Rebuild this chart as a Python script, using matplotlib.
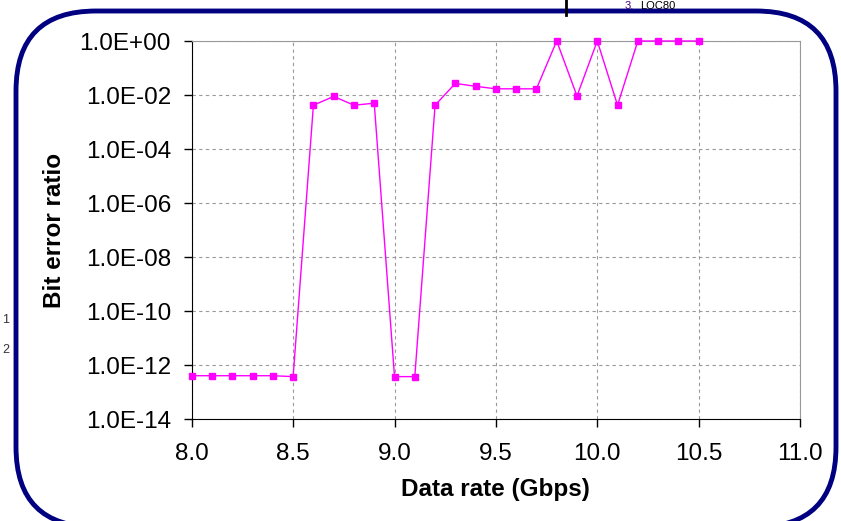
import matplotlib
matplotlib.use("Agg")
import matplotlib.pyplot as plt
from matplotlib.patches import FancyBboxPatch
from matplotlib.transforms import IdentityTransform
from matplotlib.ticker import FixedLocator, NullLocator

# Data
data_rate = [8.0, 8.1, 8.2, 8.3, 8.4, 8.5, 8.6, 8.7, 8.8, 8.9,
             9.0, 9.1, 9.2, 9.3, 9.4, 9.5, 9.6, 9.7, 9.8, 9.9,
             10.0, 10.1, 10.2, 10.3, 10.4, 10.5]
ber = [4.1e-13, 4.1e-13, 4.1e-13, 4.1e-13, 4.1e-13, 3.8e-13, 4.2e-3, 8.9e-3, 4.2e-3, 5.0e-3,
       3.8e-13, 3.8e-13, 4.2e-3, 2.7e-2, 2.1e-2, 1.7e-2, 1.7e-2, 1.7e-2, 1.0, 9.2e-3,
       1.0, 4.2e-3, 1.0, 1.0, 1.0, 1.0]

x_ticks = [8.0, 8.5, 9.0, 9.5, 10.0, 10.5, 11.0]
x_tick_labels = ["8.0", "8.5", "9.0", "9.5", "10.0", "10.5", "11.0"]
y_ticks = [1e-14, 1e-12, 1e-10, 1e-8, 1e-6, 1e-4, 1e-2, 1e0]
y_tick_labels = ["1.0E-14", "1.0E-12", "1.0E-10", "1.0E-08",
                 "1.0E-06", "1.0E-04", "1.0E-02", "1.0E+00"]

plt.rcParams["font.family"] = ["Liberation Sans", "DejaVu Sans"]

fig = plt.figure(figsize=(8.41, 5.21), dpi=100)
ax = fig.add_axes([0.228, 0.1952, 0.7233, 0.7261])

ax.plot(data_rate, ber, color="#FF00FF", linewidth=1.0, marker="s",
        markersize=4.5, clip_on=False, zorder=3)

ax.set_yscale("log")
ax.set_xlim(8.0, 11.0)
ax.set_ylim(1e-14, 1e0)

ax.xaxis.set_major_locator(FixedLocator(x_ticks))
ax.set_xticklabels(x_tick_labels)
ax.yaxis.set_major_locator(FixedLocator(y_ticks))
ax.yaxis.set_minor_locator(NullLocator())
ax.set_yticklabels(y_tick_labels)

# Grid and frame
ax.set_axisbelow(True)
ax.grid(True, color="#999999", linestyle=(0, (3, 3)), linewidth=0.8)
ax.spines["top"].set_color("#999999")
ax.spines["right"].set_color("#999999")
ax.spines["left"].set_color("black")
ax.spines["bottom"].set_color("black")
ax.tick_params(axis="both", direction="out", length=6, width=1,
               labelsize=17.5, color="black")
ax.tick_params(axis="y", pad=9)
ax.tick_params(axis="x", pad=11)

ax.set_xlabel("Data rate (Gbps)", fontsize=17.5, fontweight="bold")
ax.set_ylabel("Bit error ratio", fontsize=17.5, fontweight="bold")
ax.xaxis.set_label_coords(0.5, -0.155)
ax.xaxis.label.set_va("top")
ax.yaxis.set_label_coords(-0.207, 0.5)

# Rounded navy frame around the chart (pixel coordinates)
frame = FancyBboxPatch((16, -6), 820, 516,
                       boxstyle="round,pad=0,rounding_size=80",
                       transform=IdentityTransform(), fill=False,
                       edgecolor="#000080", linewidth=3.5, clip_on=False)
fig.patches.append(frame)

# Fragments of neighbouring slide content
fig.add_artist(plt.Line2D([566 / 841, 566 / 841], [1.0, 506 / 521],
                          color="black", linewidth=2))
fig.text(625 / 841, 1 - 1 / 521, "3.", fontsize=8, color="#4B0082",
         va="top", ha="left")
fig.text(640 / 841, 1 - 1 / 521, "LOC80", fontsize=8, color="black",
         va="top", ha="left")
fig.text(2 / 841, 1 - 320 / 521, "1", fontsize=9, color="#333333",
         va="center", ha="left")
fig.text(2 / 841, 1 - 350 / 521, "2", fontsize=9, color="#333333",
         va="center", ha="left")

plt.savefig("out.png", dpi=100)
